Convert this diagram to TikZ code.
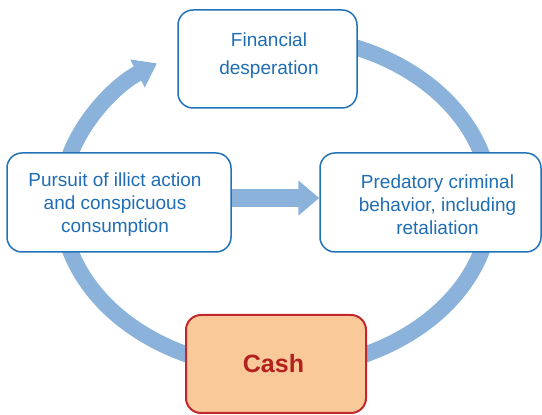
\documentclass[tikz,border=0pt]{standalone}
\usepackage{fontspec}
\setmainfont{Liberation Sans}
\usetikzlibrary{arrows.meta}
\definecolor{boxblue}{HTML}{2272BA}
\definecolor{txtblue}{HTML}{1F6EB5}
\definecolor{ringblue}{HTML}{8AB2DA}
\definecolor{cashfill}{HTML}{FAC99A}
\definecolor{cashline}{HTML}{C0282D}
\definecolor{cashtxt}{HTML}{B3211F}
\begin{document}
\begin{tikzpicture}[x=1pt,y=1pt,
  stagebox/.style={draw=boxblue, line width=1.5pt, fill=white, rounded corners=15pt,
    inner sep=0pt},
  boxtext/.style={inner sep=0pt, text=txtblue, align=center, font=\fontsize{19}{23}\selectfont},
  toptextstyle/.style={inner sep=0pt, text=txtblue, align=center, font=\fontsize{19}{28.3}\selectfont},
  cashbox/.style={draw=cashline, line width=2pt, fill=cashfill, rounded corners=15pt,
    inner sep=0pt},
  cashtext/.style={inner sep=0pt, text=cashtxt, font=\fontsize{25}{28}\selectfont\bfseries},
  ring/.style={draw=ringblue, line width=16pt, -{Triangle[width=30pt,length=22pt]}},
  midarrow/.style={draw=ringblue, line width=18pt, -{Triangle[width=34pt,length=21pt]}}
]
\useasboundingbox (0,0) rectangle (542,415);
% cycle ring
\draw[ring] ({276+215*cos(70)},{212.5+167*sin(70)}) arc[start angle=70, end angle=-236.4, x radius=215, y radius=167];
% boxes
\node[stagebox, minimum width=179pt, minimum height=98pt] (top) at (267.5,356) {};
\node[toptextstyle] (toptext) at (269,359.5) {Financial\\desperation};
\node[stagebox, minimum width=224pt, minimum height=99pt] (left) at (119,212.5) {};
\node[boxtext] (lefttext) at (115,210.5) {Pursuit of illict action\\and conspicuous\\consumption};
\node[stagebox, minimum width=221pt, minimum height=99pt] (right) at (430.5,212.5) {};
\node[boxtext] (righttext) at (437.5,210.5) {Predatory criminal\\behavior, including\\retaliation};
\node[cashbox, minimum width=180pt, minimum height=98pt] (cash) at (276,51) {};
\node[cashtext] (cashlabel) at (273.5,51) {Cash};
% middle arrow
\draw[midarrow] ([yshift=4.5pt]left.east) -- ([yshift=4.5pt]right.west);
\end{tikzpicture}
\end{document}
